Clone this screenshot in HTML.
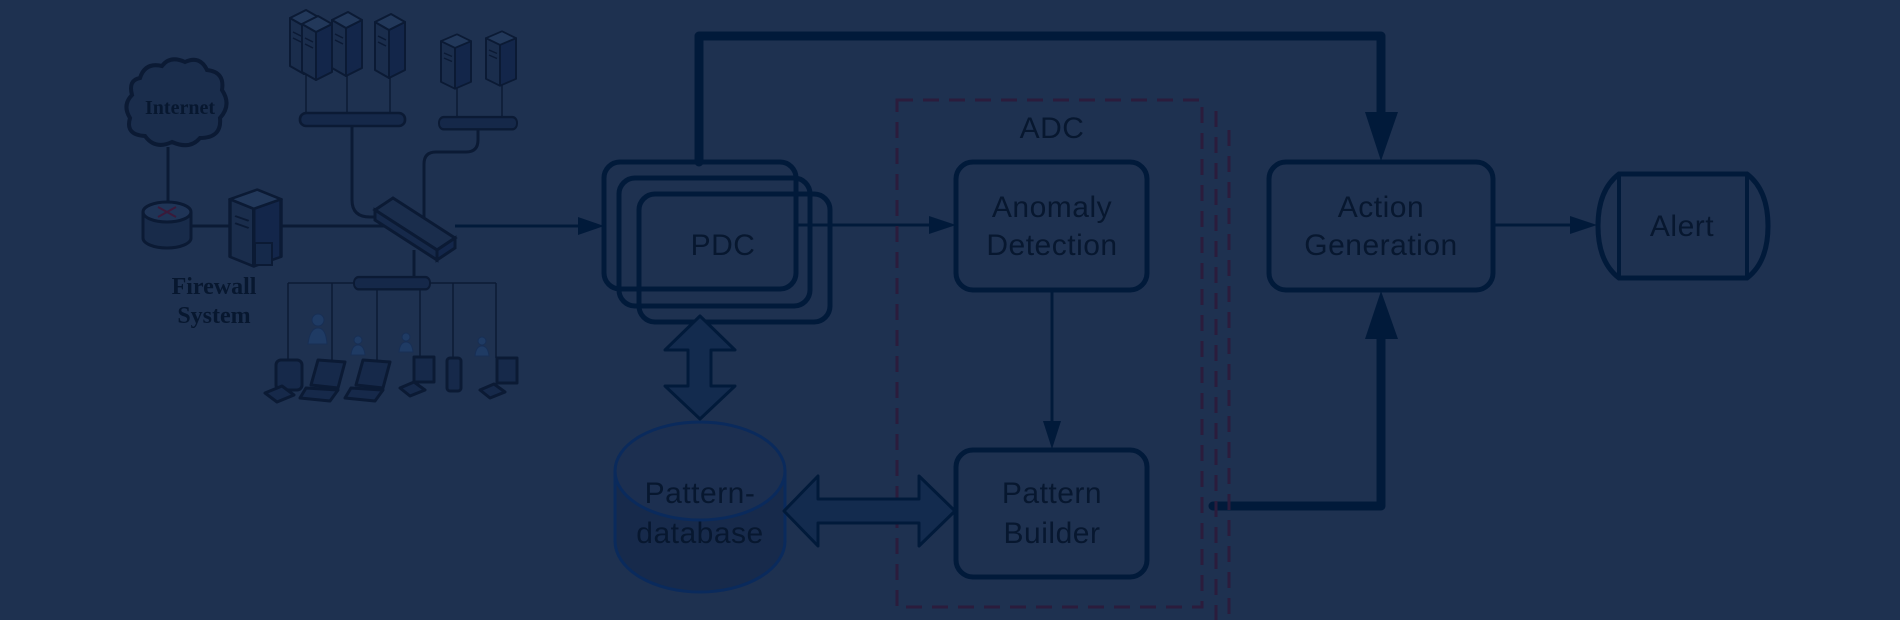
<!DOCTYPE html>
<html><head><meta charset="utf-8"><style>
html,body{margin:0;padding:0;background:#1e3150;}
svg{display:block}
.t{font-family:"Liberation Sans",sans-serif;font-size:30px;fill:#07172f;text-anchor:middle;letter-spacing:0.5px}
.s{font-family:"Liberation Serif",serif;font-weight:bold;fill:#07172f;text-anchor:middle}
</style></head><body>
<svg width="1900" height="620" viewBox="0 0 1900 620" xmlns="http://www.w3.org/2000/svg">
<defs>
<g id="srv" stroke="#0b1a34" stroke-width="2" stroke-linejoin="round">
<polygon points="0,6 14,14 14,62 0,54" fill="#1a2d4c"/>
<polygon points="14,14 30,6 30,54 14,62" fill="#13264a"/>
<polygon points="0,6 16,-2 30,6 14,14" fill="#22385a"/>
<line x1="3" y1="20" x2="11" y2="24" stroke-width="1.5"/>
<line x1="3" y1="26" x2="11" y2="30" stroke-width="1.5"/>
</g>
<g id="hub" stroke="#0b1a34" stroke-width="2.5">
<rect x="0" y="0" width="100" height="13" rx="6" fill="#152849"/>
</g>
</defs>
<rect width="1900" height="620" fill="#1e3150"/>

<!-- ===== network left ===== -->
<g stroke="#0b1a34" fill="none" stroke-width="3">
<line x1="168" y1="147" x2="168" y2="205"/>
<line x1="191" y1="226" x2="230" y2="226"/>
<line x1="280" y1="226" x2="390" y2="226"/>
<path d="M352 126 V200 Q352 217 370 217 H380"/>
<path d="M478 129 V140 Q478 152 466 152 H436 Q424 152 424 164 V217"/>
<line x1="414" y1="250" x2="414" y2="278"/>
</g>
<!-- cloud -->
<path d="M140 78 Q145 62 162 66 Q170 55 185 62 Q200 55 207 70 Q225 72 222 90 Q232 105 220 118 Q222 138 200 138 Q190 150 172 142 Q155 150 145 136 Q125 135 130 118 Q122 105 132 95 Q128 80 140 78 Z" fill="#1a2d4c" stroke="#0b1a34" stroke-width="4"/>
<text x="180" y="114" class="s" font-size="20">Internet</text>
<!-- router -->
<g stroke="#0b1a34" stroke-width="3">
<path d="M143 212 V238 A24 10 0 0 0 191 238 V212" fill="#182b4a"/>
<ellipse cx="167" cy="212" rx="24" ry="10" fill="#1f3456"/>
<path d="M158 207 L176 217 M176 207 L158 217" stroke="#3a1a3a" stroke-width="2"/>
</g>
<!-- firewall -->
<g transform="translate(230,192) scale(1.7,1.2)"><use href="#srv"/></g>
<rect x="255" y="243" width="17" height="22" fill="#15294a" stroke="#0b1a34" stroke-width="2"/>
<text x="214" y="294" class="s" font-size="24">Firewall</text>
<text x="214" y="323" class="s" font-size="24">System</text>
<!-- top servers -->
<g stroke="#0b1a34" stroke-width="1.5">
<line x1="306" y1="70" x2="306" y2="113"/><line x1="347" y1="62" x2="347" y2="113"/><line x1="390" y1="60" x2="390" y2="113"/>
<line x1="457" y1="85" x2="457" y2="117"/><line x1="502" y1="80" x2="502" y2="117"/>
</g>
<use href="#srv" transform="translate(290,12)"/><use href="#srv" transform="translate(302,18)"/>
<use href="#srv" transform="translate(332,14)"/><use href="#srv" transform="translate(375,16)"/>
<use href="#srv" transform="translate(441,36) scale(1,0.85)"/><use href="#srv" transform="translate(486,33) scale(1,0.85)"/>
<use href="#hub" transform="translate(300,113) scale(1.05,1)"/>
<use href="#hub" transform="translate(439,117) scale(0.78,0.95)"/>
<!-- switch -->
<polygon points="375,210 393,198 455,238 437,250" fill="#1a2d4c" stroke="#0b1a34" stroke-width="3"/>
<polygon points="437,250 455,238 455,248 437,260" fill="#13264a" stroke="#0b1a34" stroke-width="3"/>
<polygon points="375,210 437,250 437,260 375,220" fill="#16294a" stroke="#0b1a34" stroke-width="3"/>
<!-- bottom hub -->
<g stroke="#0b1a34" stroke-width="1.5">
<line x1="288" y1="283" x2="496" y2="283"/>
<line x1="288" y1="283" x2="288" y2="362"/><line x1="332" y1="283" x2="332" y2="360"/>
<line x1="377" y1="283" x2="377" y2="360"/><line x1="420" y1="283" x2="420" y2="358"/>
<line x1="453" y1="283" x2="453" y2="358"/><line x1="496" y1="283" x2="496" y2="358"/>
</g>
<use href="#hub" transform="translate(354,277) scale(0.76,0.95)"/>
<!-- people -->
<g fill="#1f3b64" stroke="#182f55" stroke-width="1">
<circle cx="318" cy="320" r="6"/><path d="M308 344 Q310 328 318 328 Q326 328 327 344 Z"/>
<circle cx="358" cy="340" r="4"/><path d="M351 355 Q352 345 358 345 Q364 345 365 355 Z"/>
<circle cx="406" cy="337" r="4"/><path d="M399 352 Q400 342 406 342 Q412 342 413 352 Z"/>
<circle cx="482" cy="341" r="4"/><path d="M475 356 Q476 346 482 346 Q488 346 489 356 Z"/>
</g>
<!-- devices -->
<g fill="#16294a" stroke="#0b1a34" stroke-width="3" stroke-linejoin="round">
<rect x="276" y="360" width="26" height="30" rx="5"/><polygon points="265,393 282,386 294,395 277,402"/>
<polygon points="318,360 345,362 338,388 311,385"/><polygon points="306,388 338,390 330,401 300,398"/>
<polygon points="363,360 390,362 383,388 356,385"/><polygon points="351,388 383,390 375,401 345,398"/>
<rect x="414" y="357" width="20" height="25"/><polygon points="400,388 414,382 425,390 410,396"/>
<rect x="447" y="358" width="14" height="33" rx="3"/>
<rect x="497" y="358" width="20" height="25"/><polygon points="480,390 494,384 505,392 490,398"/>
</g>

<!-- ===== main flow ===== -->
<g stroke="#011a3a" fill="none">
<path d="M699 162 V36 H1381 V115" stroke-width="9" stroke-linejoin="round" stroke-linecap="round"/>
<path d="M1213 506 H1381 V335" stroke-width="9" stroke-linejoin="round" stroke-linecap="round"/>
<line x1="455" y1="226" x2="585" y2="226" stroke-width="3"/>
<line x1="796" y1="225" x2="935" y2="225" stroke-width="3"/>
<line x1="1052" y1="290" x2="1052" y2="425" stroke-width="3"/>
<line x1="1493" y1="225" x2="1575" y2="225" stroke-width="3"/>
<rect x="604" y="162" width="192" height="127" rx="16" stroke-width="5"/>
<rect x="619" y="178" width="191" height="128" rx="16" stroke-width="5"/>
<rect x="639" y="194" width="191" height="128" rx="16" stroke-width="5"/>
<rect x="956" y="162" width="191" height="128" rx="17" stroke-width="5"/>
<rect x="956" y="450" width="191" height="127" rx="17" stroke-width="5"/>
<rect x="1269" y="162" width="224" height="128" rx="17" stroke-width="5"/>
<path d="M1619 174 H1747 Q1768 190 1768 226 Q1768 262 1747 278 H1619 Q1598 262 1598 226 Q1598 190 1619 174 Z" stroke-width="5"/>
<line x1="1619" y1="174" x2="1619" y2="278" stroke-width="4"/>
<line x1="1747" y1="174" x2="1747" y2="278" stroke-width="4"/>
</g>
<g fill="#011a3a">
<polygon points="578,217 604,226 578,235"/>
<polygon points="929,216 956,225 929,234"/>
<polygon points="1043,421 1061,421 1052,449"/>
<polygon points="1570,216 1597,225 1570,234"/>
<polygon points="1365,112 1398,112 1381,161"/>
<polygon points="1365,339 1398,339 1381,291"/>
</g>
<g stroke="#2b1c3c" stroke-width="3" stroke-dasharray="16 10" fill="none">
<rect x="897" y="100" width="305" height="507"/>
<line x1="1216" y1="111" x2="1216" y2="620"/>
<line x1="1229" y1="130" x2="1229" y2="620"/>
</g>
<g stroke="#0a2a5c" stroke-width="3">
<path d="M615 471 V541 A85 51 0 0 0 785 541 V471" fill="#172a4b"/>
<ellipse cx="700" cy="471" rx="85" ry="49" fill="#1c2f50"/>
</g>
<polygon points="700,316 735,350 711,350 711,386 735,386 700,419 665,386 688,386 688,350 665,350" fill="#132b4e" stroke="#011a3a" stroke-width="3" stroke-linejoin="round"/>
<polygon points="784,511 818,476 818,499 919,499 919,476 955,511 919,546 919,523 818,523 818,546" fill="#132b4e" stroke="#011a3a" stroke-width="3" stroke-linejoin="round"/>

<text x="723" y="255" class="t">PDC</text>
<text x="1052" y="138" class="t">ADC</text>
<text x="1052" y="217" class="t">Anomaly</text>
<text x="1052" y="255" class="t">Detection</text>
<text x="1052" y="503" class="t">Pattern</text>
<text x="1052" y="543" class="t">Builder</text>
<text x="1381" y="217" class="t">Action</text>
<text x="1381" y="255" class="t">Generation</text>
<text x="1682" y="236" class="t">Alert</text>
<text x="700" y="503" class="t">Pattern-</text>
<text x="700" y="543" class="t">database</text>
</svg>
</body></html>
